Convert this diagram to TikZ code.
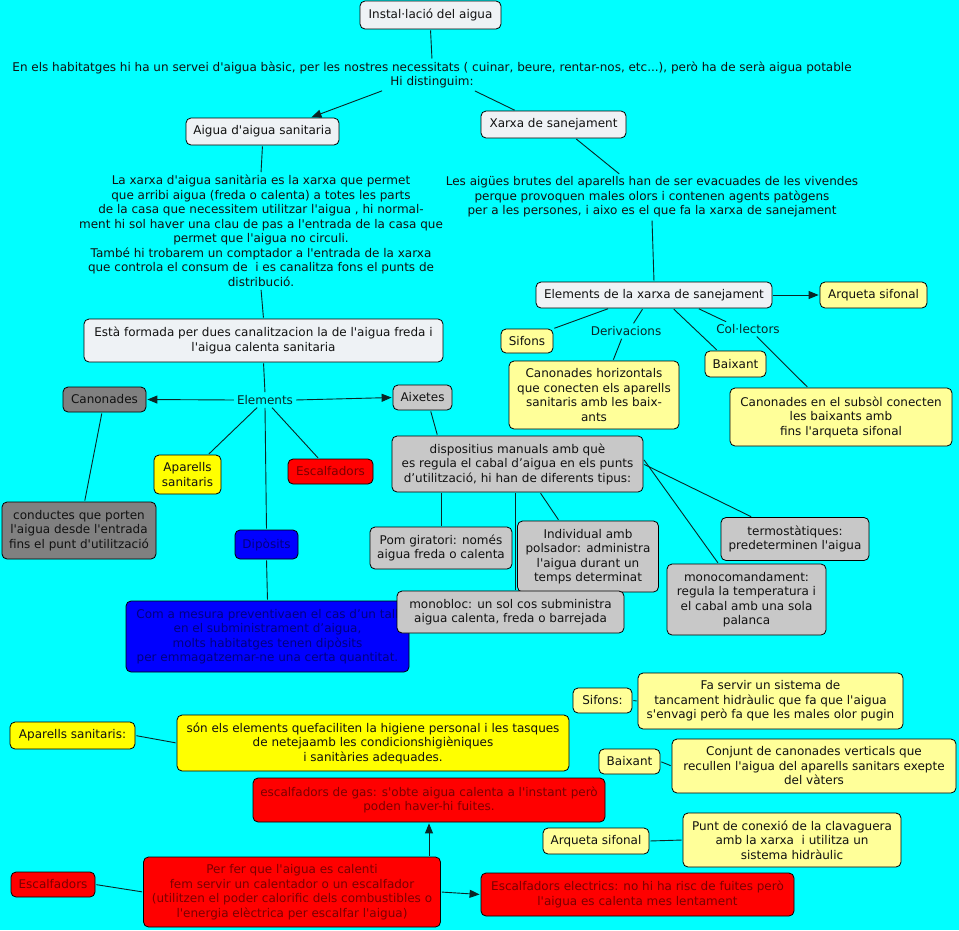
\documentclass[tikz,border=0pt]{standalone}
\usepackage{fontspec}
\setmainfont{DejaVu Sans}[Ligatures=TeXOff]
\usetikzlibrary{arrows.meta}
\definecolor{bg}{HTML}{00FFFF}
\definecolor{lightbox}{HTML}{EEF2F5}
\definecolor{paleyel}{HTML}{FFFF99}
\definecolor{brightyel}{HTML}{FFFF00}
\definecolor{grayA}{HTML}{808080}
\definecolor{grayB}{HTML}{C8C8C8}
\definecolor{redbox}{HTML}{FF0000}
\definecolor{redtxt}{HTML}{7A0000}
\definecolor{bluebox}{HTML}{0000FF}
\definecolor{bluetxt}{HTML}{000080}
\definecolor{txt}{HTML}{111111}
\definecolor{linkc}{HTML}{0A2626}
\tikzset{
  cbox/.style={draw=black, line width=0.8pt, rounded corners=5pt, align=center, inner sep=0pt, text=txt,
               font=\fontsize{12}{14.5}\selectfont},
  lbox/.style={cbox, fill=lightbox},
  ybox/.style={cbox, fill=paleyel},
  Ybox/.style={cbox, fill=brightyel},
  gbox/.style={cbox, fill=grayA},
  sbox/.style={cbox, fill=grayB},
  rbox/.style={cbox, fill=redbox, text=redtxt},
  bbox/.style={cbox, fill=bluebox, text=bluetxt},
  plain/.style={align=center, inner sep=2pt, text=txt, font=\fontsize{12}{14.5}\selectfont},
  linkt/.style={plain, text=linkc},
  conn/.style={draw=linkc, line width=0.9pt, shorten <=1pt, shorten >=1pt},
  arr/.style={conn, -{Triangle[length=10pt,width=8pt]}},
}
\begin{document}
\begin{tikzpicture}[x=1pt,y=-1pt]
\fill[bg] (0,0) rectangle (959,930);
\useasboundingbox (0,0) rectangle (959,930);

% ---- top
\node[lbox, minimum width=141pt, minimum height=28pt] (title) at (430.5,15) {Instal·lació del aigua};
\node[plain] (intro) at (432,75) {En els habitatges hi ha un servei d'aigua bàsic, per les nostres necessitats ( cuinar, beure, rentar-nos, etc...), però ha de serà aigua potable\\Hi distinguim:};
\node[lbox, minimum width=153pt, minimum height=27pt] (aigua) at (262.5,131.5) {Aigua d'aigua sanitaria};
\node[lbox, minimum width=145pt, minimum height=27pt] (xarxa) at (553.5,124.5) {Xarxa de sanejament};

\node[plain] (text5) at (261,231) {La xarxa d'aigua sanitària es la xarxa que permet\\que arribi aigua (freda o calenta) a totes les parts\\de la casa que necessitem utilitzar l'aigua , hi normal-\\ment hi sol haver una clau de pas a l'entrada de la casa que\\permet que l'aigua no circuli.\\També hi trobarem un comptador a l'entrada de la xarxa\\que controla el consum de \ i es canalitza fons el punts de\\distribució.};
\node[lbox, minimum width=359pt, minimum height=43pt] (estaf) at (263.5,340.5) {Està formada per dues canalitzacion la de l'aigua freda i\\l'aigua calenta sanitaria};
\node[linkt] (elements) at (265,400) {Elements};
\node[gbox, minimum width=83pt, minimum height=25pt] (canonades) at (104.5,399.5) {Canonades};
\node[sbox, minimum width=59pt, minimum height=25pt] (aixetes) at (422.5,397.5) {Aixetes};
\node[Ybox, minimum width=67pt, minimum height=39pt] (aparells) at (187.5,474.5) {Aparells\\sanitaris};
\node[rbox, minimum width=85pt, minimum height=25pt] (escalf1) at (330.5,471.5) {Escalfadors};
\node[bbox, minimum width=63pt, minimum height=29pt] (diposits) at (266.5,544.5) {Dipòsits};
\node[bbox, minimum width=283pt, minimum height=71pt] (blue) at (267.5,636.5) {Com a mesura preventivaen el cas d’un tall\\en el subministrament d’aigua,\\molts habitatges tenen dipòsits\\per emmagatzemar-ne una certa quantitat.};
\node[gbox, minimum width=154pt, minimum height=57pt] (conductes) at (79,530.5) {conductes que porten\\l'aigua desde l'entrada\\fins el punt d'utilització};
\node[sbox, minimum width=251pt, minimum height=56pt] (disp) at (517.5,464) {dispositius manuals amb què\\es regula el cabal d’aigua en els punts\\d’utilització, hi han de diferents tipus:};
\node[sbox, minimum width=142pt, minimum height=42pt] (pom) at (441,548) {Pom giratori: només\\aigua freda o calenta};
\node[sbox, minimum width=141pt, minimum height=71pt] (indiv) at (588,556.5) {Individual amb\\polsador: administra\\l'aigua durant un\\temps determinat};
\node[sbox, minimum width=227pt, minimum height=42pt] (monobloc) at (510.5,612) {monobloc: un sol cos subministra\\aigua calenta, freda o barrejada};
\node[sbox, minimum width=148pt, minimum height=43pt] (termo) at (795,539) {termostàtiques:\\predeterminen l'aigua};
\node[sbox, minimum width=159pt, minimum height=71pt] (monocom) at (746.5,599.5) {monocomandament:\\regula la temperatura i\\el cabal amb una sola\\palanca};

% ---- right top
\node[plain] (aigues) at (652,197) {Les aigües brutes del aparells han de ser evacuades de les vivendes\\perque provoquen males olors i contenen agents patògens\\per a les persones, i aixo es el que fa la xarxa de sanejament};
\node[lbox, minimum width=236pt, minimum height=26pt] (elemx) at (654,295) {Elements de la xarxa de sanejament};
\node[ybox, minimum width=107pt, minimum height=26pt] (arq1) at (873.5,295) {Arqueta sifonal};
\node[ybox, minimum width=52pt, minimum height=24pt] (sif1) at (527,341) {Sifons};
\node[linkt] (deriv) at (626,331) {Derivacions};
\node[linkt] (coll) at (748,329) {Col·lectors};
\node[ybox, minimum width=61pt, minimum height=26pt] (baix1) at (735.5,364) {Baixant};
\node[ybox, minimum width=170pt, minimum height=68pt] (canhor) at (594,395) {Canonades horizontals\\que conecten els aparells\\sanitaris amb les baix-\\ants};
\node[ybox, minimum width=222pt, minimum height=58pt] (cansub) at (841,417) {Canonades en el subsòl conecten\\les baixants amb\\fins l'arqueta sifonal};

% ---- bottom
\node[Ybox, minimum width=125pt, minimum height=27pt] (apsan) at (72.5,735.5) {Aparells sanitaris:};
\node[Ybox, minimum width=392pt, minimum height=56pt] (sonels) at (373,743) {són els elements quefaciliten la higiene personal i les tasques\\de netejaamb les condicionshigièniques\\i sanitàries adequades.};
\node[rbox, minimum width=352pt, minimum height=44pt] (gas) at (429,800) {escalfadors de gas: s'obte aigua calenta a l'instant però\\poden haver-hi fuites.};
\node[rbox, minimum width=84pt, minimum height=25pt] (escalf2) at (53,884.5) {Escalfadors};
\node[rbox, minimum width=297pt, minimum height=70pt] (perfer) at (292,892) {Per fer que l'aigua es calenti\\fem servir un calentador o un escalfador\\(utilitzen el poder calorific dels combustibles o\\l'energia elèctrica per escalfar l'aigua)};
\node[rbox, minimum width=313pt, minimum height=43pt] (electr) at (637.5,894.5) {Escalfadors electrics: no hi ha risc de fuites però\\l'aigua es calenta mes lentament};
\node[ybox, minimum width=59pt, minimum height=25pt] (sif2) at (602.5,700.5) {Sifons:};
\node[ybox, minimum width=265pt, minimum height=56pt] (faserv) at (770.5,701) {Fa servir un sistema de\\tancament hidràulic que fa que l'aigua\\s'envagi però fa que les males olor pugin};
\node[ybox, minimum width=61pt, minimum height=25pt] (baix2) at (629.5,761.5) {Baixant};
\node[ybox, minimum width=284pt, minimum height=54pt] (conjunt) at (814,766) {Conjunt de canonades verticals que\\recullen l'aigua del aparells sanitars exepte\\del vàters};
\node[ybox, minimum width=106pt, minimum height=26pt] (arq2) at (596,841) {Arqueta sifonal};
\node[ybox, minimum width=218pt, minimum height=54pt] (punt) at (792,840) {Punt de conexió de la clavaguera\\amb la xarxa \ i utilitza un\\sistema hidràulic};

% ---- connectors
\draw[conn] (title.south) -- (intro.north);
\draw[arr] ([xshift=-49pt]intro.south) -- ([xshift=48pt]aigua.north);
\draw[conn] ([xshift=42pt]intro.south) -- ([xshift=-38pt]xarxa.north);
\draw[conn] (aigua.south) -- (text5.north);
\draw[conn] (text5.south) -- (estaf.north);
\draw[conn] (estaf.south) -- (elements.north);
\draw[arr] (elements.west) -- (canonades.east);
\draw[arr] (elements.east) -- (aixetes.west);
\draw[conn] (elements) -- (aparells);
\draw[conn] (elements) -- (escalf1);
\draw[conn] (elements.south) -- (diposits.north);
\draw[conn] (diposits.south) -- (blue.north);
\draw[conn] (canonades) -- (conductes);
\draw[conn] ([xshift=8pt]aixetes.south) -- ([xshift=-80pt]disp.north);
\draw[conn] ([xshift=-76.5pt]disp.south) -- (pom.north);
\draw[conn] ([xshift=-2pt]disp.south) -- ([xshift=5pt]monobloc.north);
\draw[conn] ([xshift=22.5pt]disp.south) -- ([xshift=-29pt]indiv.north);
\draw[conn] (disp.east) -- ([xshift=-43pt]termo.north);
\draw[conn] ([yshift=5pt]disp.east) -- ([xshift=-28pt]monocom.north);

\draw[conn] ([xshift=22pt]xarxa.south) -- ([xshift=-32pt]aigues.north);
\draw[conn] (aigues.south) -- (elemx.north);
\draw[arr] (elemx.east) -- (arq1.west);
\draw[conn] ([xshift=-45pt]elemx.south) -- (sif1.north east);
\draw[conn] ([xshift=-11pt]elemx.south) -- ([xshift=7pt]deriv.north);
\draw[conn] ([xshift=-4pt]deriv.south) -- ([xshift=19pt]canhor.north);
\draw[conn] ([xshift=19pt]elemx.south) -- ([xshift=-18pt]baix1.north);
\draw[conn] ([xshift=44pt]elemx.south) -- ([xshift=-21pt]coll.north);
\draw[conn] ([xshift=8pt]coll.south) -- ([xshift=-33pt]cansub.north);

\draw[conn] (apsan.east) -- (sonels.west);
\draw[conn] (escalf2.east) -- (perfer.west);
\draw[arr] ([xshift=137pt]perfer.north) -- (gas.south);
\draw[arr] (perfer.east) -- (electr.west);
\draw[conn] (sif2.east) -- (faserv.west);
\draw[conn] (baix2.east) -- (conjunt.west);
\draw[conn] (arq2.east) -- (punt.west);
\end{tikzpicture}
\end{document}
